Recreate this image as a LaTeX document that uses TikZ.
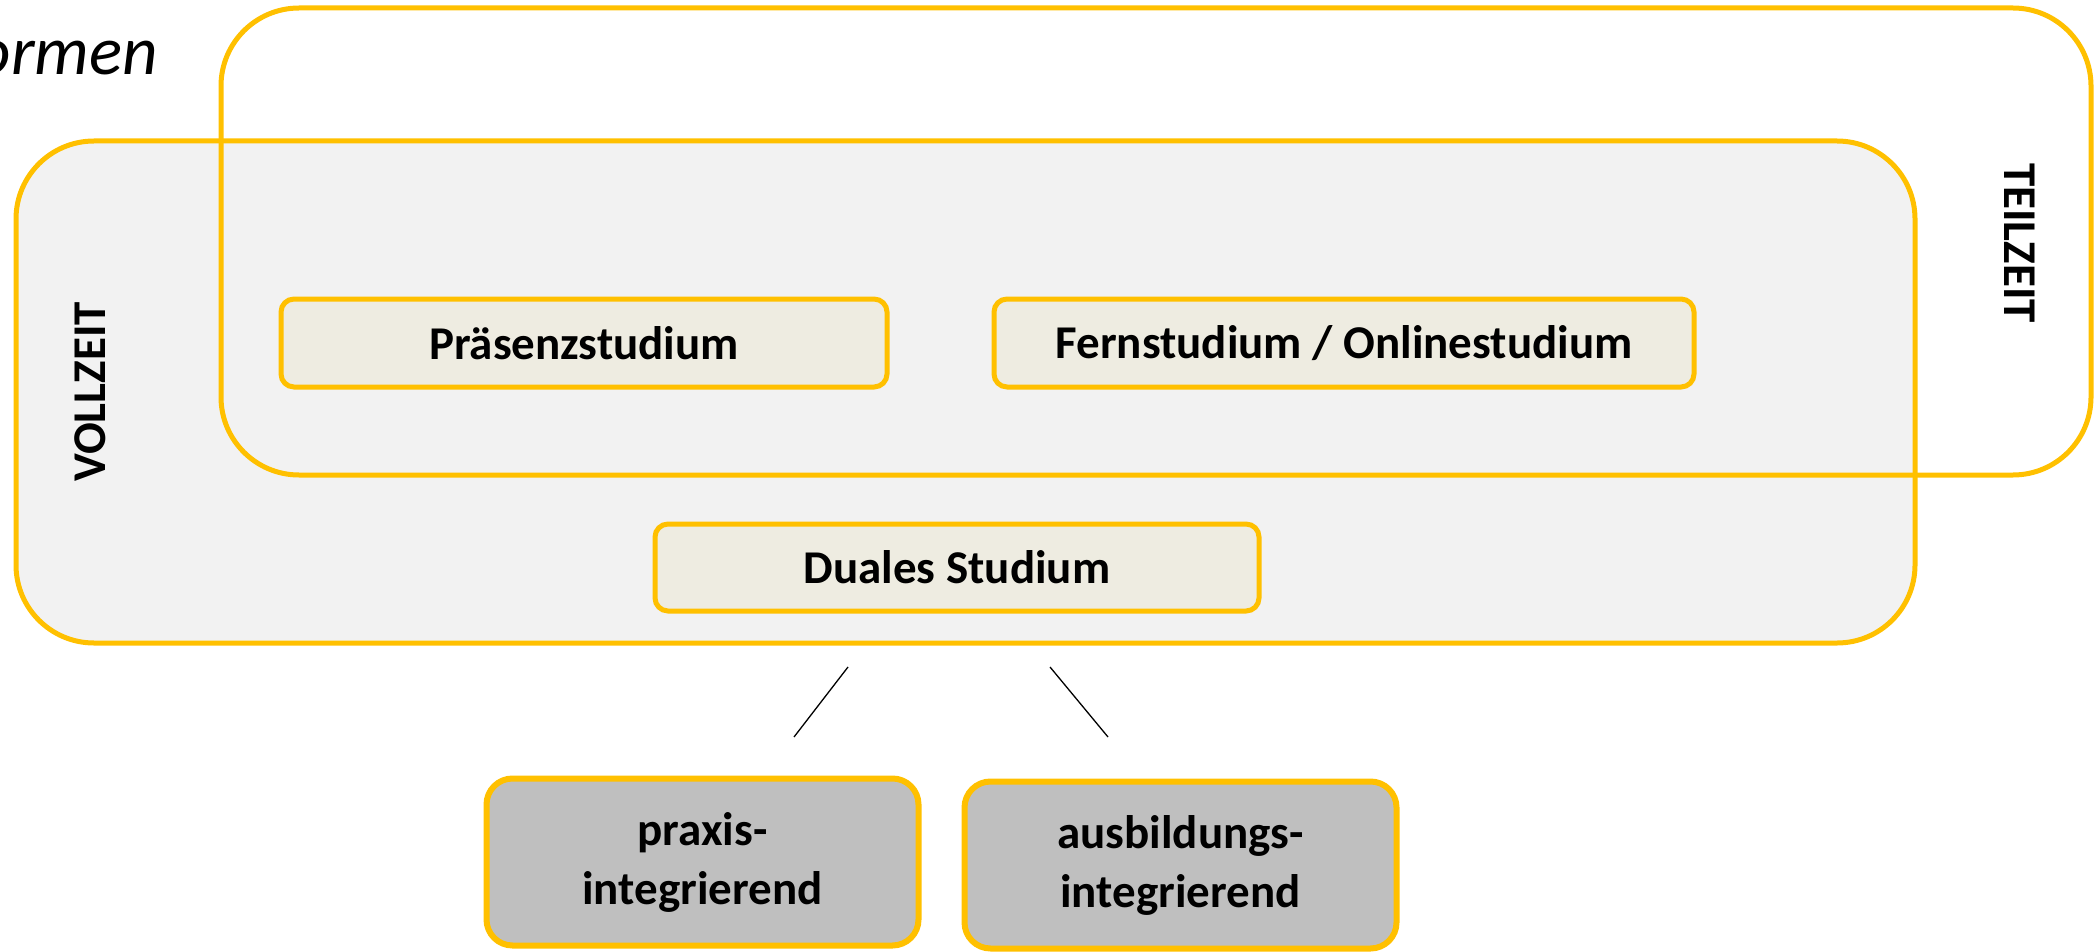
\documentclass[tikz,border=0pt]{standalone}
\usepackage{fontspec}
\setmainfont{Carlito}
\definecolor{gold}{HTML}{FFC000}
\definecolor{lightbg}{HTML}{F2F2F2}
\definecolor{tanfill}{HTML}{EEECE1}
\definecolor{midgray}{HTML}{BFBFBF}
\begin{document}
\begin{tikzpicture}[x=1pt,y=-1pt,
  bigbox/.style={draw=gold,line width=5pt,rounded corners=78pt,inner sep=0pt},
  formbox/.style={draw=gold,fill=tanfill,line width=5pt,rounded corners=13pt,inner sep=0pt,
    minimum height=88pt,font=\fontsize{47}{56}\selectfont\bfseries},
  subbox/.style={draw=gold,fill=midgray,line width=6pt,rounded corners=26pt,inner sep=0pt,
    minimum width=432pt,minimum height=167pt,align=center,font=\fontsize{47}{59}\selectfont\bfseries},
  sidelabel/.style={font=\fontsize{47}{56}\selectfont\bfseries,inner sep=0pt},
  link/.style={draw=black,line width=1.3pt}]
\useasboundingbox (0,0) rectangle (2100,952);
% background fill of VOLLZEIT
\node[fill=lightbg,rounded corners=78pt,inner sep=0pt,minimum width=1899pt,minimum height=502pt] (vollfill) at (965.5,392) {};
% TEILZEIT outline
\node[bigbox,minimum width=1870pt,minimum height=467pt] (teil) at (1156,241.5) {};
% VOLLZEIT outline
\node[bigbox,minimum width=1899pt,minimum height=502pt] (voll) at (965.5,392) {};
% title fragment
\node[anchor=base east,inner sep=0pt,font=\fontsize{69}{80}\selectfont\itshape] (title) at (158,75) {ormen};
% side labels
\node[sidelabel,rotate=90] (volllabel) at (90,392) {VOLLZEIT};
\node[sidelabel,rotate=-90] (teillabel) at (2020,243) {TEILZEIT};
% forms
\node[formbox,minimum width=606pt] (praes) at (584,343) {Präsenzstudium};
\node[formbox,minimum width=700pt] (fern) at (1344,343) {Fernstudium / Onlinestudium};
\node[formbox,minimum width=604pt,minimum height=87pt] (dual) at (957,567.5) {Duales Studium};
% sub forms
\node[subbox] (praxis) at (702.5,862) {praxis-\\integrierend};
\node[subbox] (ausb) at (1180.5,865) {ausbildungs-\\integrierend};
% connectors
\coordinate (l1a) at (848,667);
\coordinate (l1b) at (794,737);
\coordinate (l2a) at (1050,667);
\coordinate (l2b) at (1108,737);
\draw[link] (l1a) -- (l1b);
\draw[link] (l2a) -- (l2b);
\end{tikzpicture}
\end{document}
